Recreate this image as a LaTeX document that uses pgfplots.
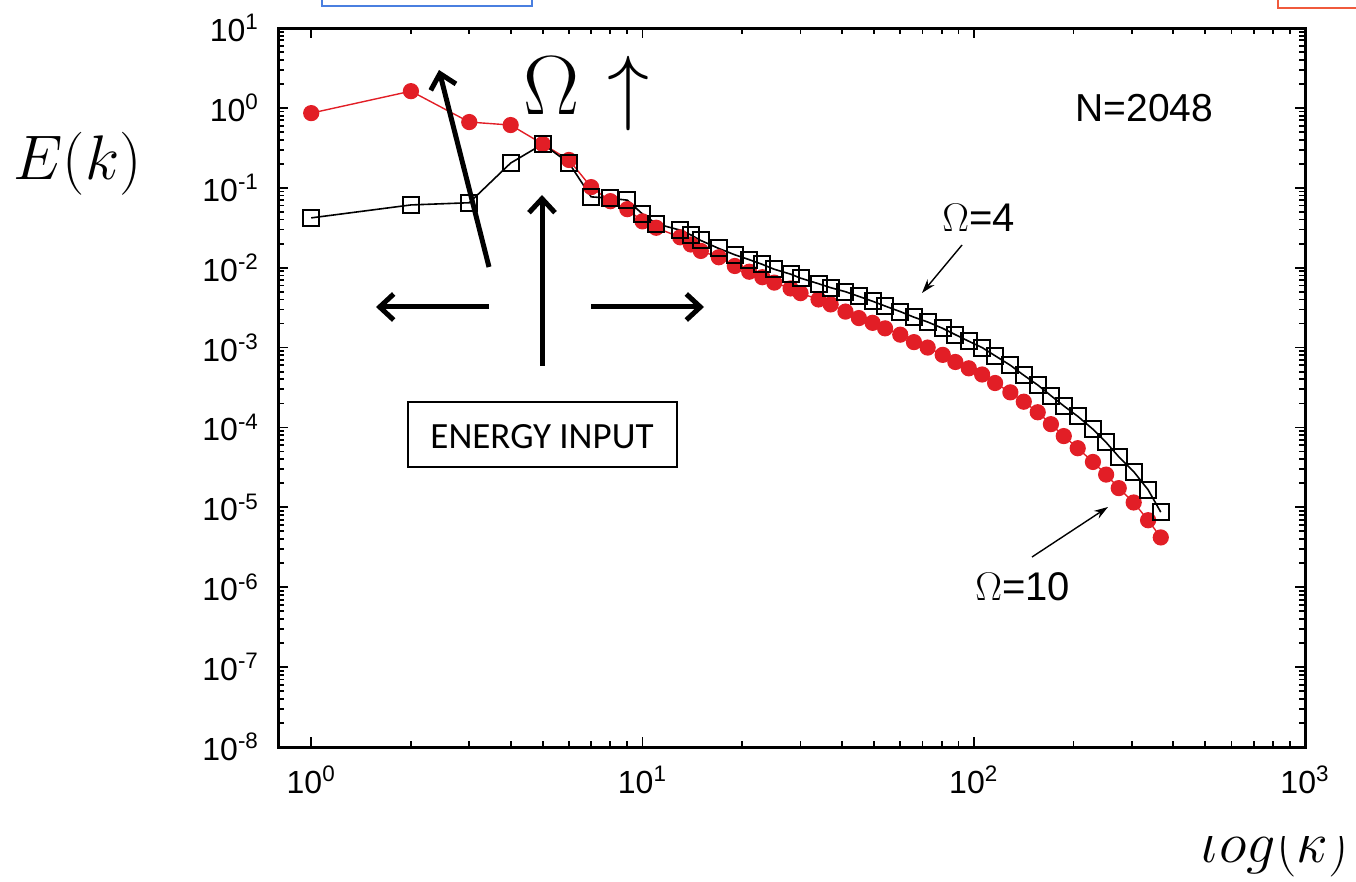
\RequirePackage{fix-cm}
\documentclass[border=0pt]{standalone}
\usepackage[no-math]{fontspec}
\setmainfont{Liberation Sans}
\newfontfamily\carlito{Carlito}
\usepackage{pgfplots}
\pgfplotsset{compat=1.18}
\usetikzlibrary{arrows.meta}

\definecolor{dotred}{HTML}{E21E26}
\definecolor{boxblue}{HTML}{4A7FE0}
\definecolor{boxorange}{HTML}{F05A3C}

\begin{document}
\begin{tikzpicture}
\begin{axis}[
    at={(139pt,-373.5pt)}, anchor=south west,
    scale only axis, width=513.5pt, height=359.5pt,
    xmode=log, ymode=log,
    xmin=0.794, xmax=1000, ymin=1e-8, ymax=10,
    xtick={1,10,100,1000},
    xticklabels={10\textsuperscript{0},10\textsuperscript{1},10\textsuperscript{2},10\textsuperscript{3}},
    ytick={1e-8,1e-7,1e-6,1e-5,1e-4,1e-3,1e-2,1e-1,1,10},
    yticklabels={10\textsuperscript{-8},10\textsuperscript{-7},10\textsuperscript{-6},
                 10\textsuperscript{-5},10\textsuperscript{-4},10\textsuperscript{-3},
                 10\textsuperscript{-2},10\textsuperscript{-1},10\textsuperscript{0},
                 10\textsuperscript{1}},
    ticklabel style={font=\fontsize{16}{18}\selectfont},
    xticklabel style={yshift=-6pt},
    yticklabel style={xshift=-6pt},
    axis line style={line width=1.5pt},
    every tick/.style={black, line width=0.9pt},
    major tick length=5pt, minor tick length=3pt,
    tick align=inside,
  ]
  % Omega = 10
  \addplot[dotred, line width=0.7pt, mark=*, mark size=3.7pt,
           mark options={fill=dotred, draw=dotred, solid}]
  coordinates {
    (1,0.86) (2,1.62) (3,0.665) (4,0.61) (5,0.353) (6,0.223) (7,0.102)
    (8,0.068) (9,0.054) (10,0.038) (11,0.0316) (13,0.024) (14,0.0195)
    (15,0.0162) (17,0.0135) (19,0.0105) (21,0.0089) (23,0.0076)
    (25,0.0065) (28,0.0055) (30,0.0048) (34,0.0040) (37,0.00347)
    (41,0.00282) (45,0.00234) (49.5,0.00204) (54,0.00174) (60,0.00145)
    (66,0.00117) (72.6,0.0010) (80.6,8.1e-4) (88,6.6e-4) (96.6,5.5e-4)
    (106,4.6e-4) (116,3.6e-4) (129,2.75e-4) (141.6,2.1e-4) (156,1.55e-4)
    (171,1.1e-4) (187,7.8e-5) (206,5.5e-5) (229,3.7e-5) (251,2.57e-5)
    (274,1.74e-5) (304,1.15e-5) (336,6.9e-6) (367,4.2e-6)
  };
  % Omega = 4
  \addplot[black, line width=0.8pt, mark=square, mark size=4pt,
           mark options={line width=1pt, solid}]
  coordinates {
    (1,0.042) (2,0.061) (3,0.065) (4,0.204) (5,0.353) (6,0.204) (7,0.077)
    (8,0.074) (9,0.070) (10,0.047) (11,0.0355) (13,0.0295) (14,0.0257)
    (15,0.0219) (17,0.0174) (19,0.0145) (21,0.0126) (23,0.011)
    (25,0.00955) (28,0.0083) (30,0.0074) (34,0.0063) (37,0.00562)
    (41,0.0050) (45,0.00437) (49.5,0.0038) (54,0.00331) (60,0.00282)
    (66,0.0024) (72.6,0.00209) (80.6,0.00174) (88,0.00145) (96.6,0.0012)
    (106,0.0010) (116,7.9e-4) (129,6.0e-4) (141.6,4.5e-4) (156,3.4e-4)
    (171,2.5e-4) (187,1.86e-4) (206,1.38e-4) (229,9.5e-5) (251,6.5e-5)
    (274,4.3e-5) (304,2.8e-5) (336,1.66e-5) (367,8.7e-6)
  };
\end{axis}

% annotations, in pixel units of the slide (origin top left)
\begin{scope}[x=0.5pt, y=-0.5pt]
  \node[anchor=base west, inner sep=0] at (13,180) {\fontsize{31.5}{34}\selectfont $E(k)$};
  \node[anchor=base west, inner sep=0] at (1201,862) {\fontsize{29}{32}\selectfont $log(k)$};
  \fill[white] (1185,812) rectangle (1360,836);

  \node[anchor=base west, inner sep=0] at (523,115) {\fontsize{42}{44}\selectfont $\Omega$};
  \node[anchor=base, inner sep=0] at (628,115) {\fontsize{42}{44}\selectfont $\uparrow$};

  \node[anchor=base west, inner sep=0] at (1075,122) {\fontsize{19.5}{22}\selectfont N=2048};
  \node[anchor=base west, inner sep=0] at (942,232) {\fontsize{20}{22}\selectfont $\Omega$=4};
  \node[anchor=base west, inner sep=0] at (975,600) {\fontsize{20}{22}\selectfont $\Omega$=10};
  \draw[line width=0.7pt, -{Stealth[length=7pt, width=4.5pt]}] (962,245) -- (922,293);
  \draw[line width=0.7pt, -{Stealth[length=7pt, width=4.5pt]}] (1032,557) -- (1108,507);

  \begin{scope}[line width=2.5pt, -{Straight Barb[length=7pt, width=13pt]}]
    \draw (489,307) -- (376,307);
    \draw (591,307) -- (704,307);
    \draw (542,366) -- (542,195);
    \draw (489,267) -- (439,70);
  \end{scope}

  \draw[line width=1pt] (408,402) rectangle (677,467);
  \node[inner sep=0] at (542,437) {\carlito\fontsize{18.5}{22}\selectfont ENERGY INPUT};

  \draw[boxblue, line width=1pt] (322,-20) rectangle (532,6);
  \draw[boxorange, line width=1.2pt] (1278,-20) rectangle (1380,8);
\end{scope}

\pgfresetboundingbox
\useasboundingbox (0pt,0pt) rectangle (678pt,-441pt);
\end{tikzpicture}
\end{document}
